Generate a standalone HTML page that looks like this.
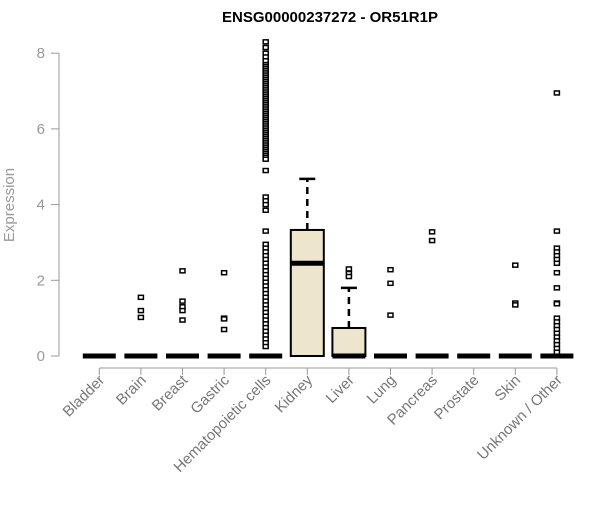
<!DOCTYPE html>
<html><head><meta charset="utf-8"><style>
body{margin:0;background:#fff;font-family:"Liberation Sans",Arial,sans-serif}
</style></head><body>
<svg id="chart" width="600" height="500" xmlns="http://www.w3.org/2000/svg">
<text x="330" y="22" text-anchor="middle" font-weight="bold" font-size="15">ENSG00000237272 - OR51R1P</text>
<text transform="translate(14,205) rotate(-90)" text-anchor="middle" font-size="15" fill="#999">Expression</text>
<g id="yaxis"></g>
<g id="xaxis"></g>
<g id="plot"></g>
</svg>
<script>
const categories=["Bladder","Brain","Breast","Gastric","Hematopoietic cells","Kidney","Liver","Lung","Pancreas","Prostate","Skin","Unknown / Other"];
const q1=[0,0,0,0,0,0,0,0,0,0,0,0];
const medians=[0,0,0,0,0,2.45,0,0,0,0,0,0];
const q3=[0,0,0,0,0,3.33,0.74,0,0,0,0,0];
const whiskerLow=[0,0,0,0,0,0,0,0,0,0,0,0];
const whiskerHigh=[0,0,0,0,0,4.68,1.8,0,0,0,0,0];
const outliers=[
[],
[1.55,1.2,1.02],
[2.25,1.45,1.3,1.2,0.95],
[2.2,1.0,0.98,0.7],
[8.3,8.15,8.0,7.9,7.8,7.7,7.65,7.6,7.55,7.5,7.45,7.4,7.35,7.3,7.25,7.2,7.15,7.1,7.05,7.0,6.95,6.9,6.85,6.8,6.75,6.7,6.65,6.6,6.55,6.5,6.45,6.4,6.35,6.3,6.25,6.2,6.15,6.1,6.05,6.0,5.95,5.9,5.85,5.8,5.75,5.7,5.65,5.6,5.55,5.5,5.45,5.4,5.35,5.3,5.25,5.2,4.9,4.2,4.1,4.0,3.85,3.3,2.95,2.85,2.75,2.65,2.55,2.45,2.35,2.25,2.15,2.05,1.95,1.85,1.75,1.65,1.55,1.45,1.35,1.25,1.15,1.05,0.95,0.85,0.75,0.65,0.55,0.45,0.35,0.25],
[],
[2.3,2.18,2.1],
[2.28,1.92,1.08],
[3.28,3.05],
[],
[2.4,1.4,1.35],
[6.95,3.3,2.85,2.75,2.65,2.55,2.45,2.2,1.8,1.4,1.38,1.0,0.9,0.8,0.7,0.6,0.5,0.4,0.3,0.2,0.1]
];
const yTicks=[0,2,4,6,8];
const NS="http://www.w3.org/2000/svg";
function xScale(i){return 99.3+i*41.6;}
function yScale(v){return 356-v*37.85;}
function mk(tag,attrs,parent){const e=document.createElementNS(NS,tag);for(const k in attrs)e.setAttribute(k,attrs[k]);parent.appendChild(e);return e;}
const ya=document.getElementById('yaxis'),xa=document.getElementById('xaxis'),pl=document.getElementById('plot');
let l=mk('line',{x1:59,x2:59,y1:yScale(0),y2:yScale(8),stroke:'#999'},ya);

yTicks.forEach(t=>{
 let tk=mk('line',{x1:51,x2:59,y1:yScale(t),y2:yScale(t),stroke:'#999'},ya);
 
 let tx=mk('text',{x:45,y:yScale(t)+5,'text-anchor':'end','font-size':15,fill:'#999'},ya);
 tx.textContent=t;
 
});
l=mk('line',{x1:xScale(0),x2:xScale(categories.length-1),y1:368,y2:368,stroke:'#999'},xa);

categories.forEach((c,i)=>{
 const x=xScale(i);
 let tk=mk('line',{x1:x,x2:x,y1:368,y2:375,stroke:'#999'},xa);
 
 let tx=mk('text',{x:x+6,y:381,'text-anchor':'end','font-size':15,fill:'#777',transform:`rotate(-45 ${x+6} 381)`},xa);
 tx.textContent=c;
 
 const g=mk('g',{},pl);
 
 
 const hw=16.5;
 if(whiskerHigh[i]>q3[i]){
  mk('line',{x1:x,x2:x,y1:yScale(q3[i]),y2:yScale(whiskerHigh[i]),stroke:'#000','stroke-width':2.5,'stroke-dasharray':'7,5'},g);
  mk('line',{x1:x-8,x2:x+8,y1:yScale(whiskerHigh[i]),y2:yScale(whiskerHigh[i]),stroke:'#000','stroke-width':2.5},g);
 }
 if(q3[i]>q1[i]){
  mk('rect',{x:x-hw,y:yScale(q3[i]),width:hw*2,height:yScale(q1[i])-yScale(q3[i]),fill:'#ede6cd',stroke:'#000','stroke-width':2},g);
 }
 mk('line',{x1:x-hw,x2:x+hw,y1:yScale(medians[i]),y2:yScale(medians[i]),stroke:'#000','stroke-width':5},g);
 outliers[i].forEach(v=>{
  const p=mk('rect',{x:x-2.5,y:yScale(v)-2,width:5,height:4,fill:'#fff',stroke:'#000','stroke-width':1.5},g);
  
  
 });
});
</script>
</body></html>
